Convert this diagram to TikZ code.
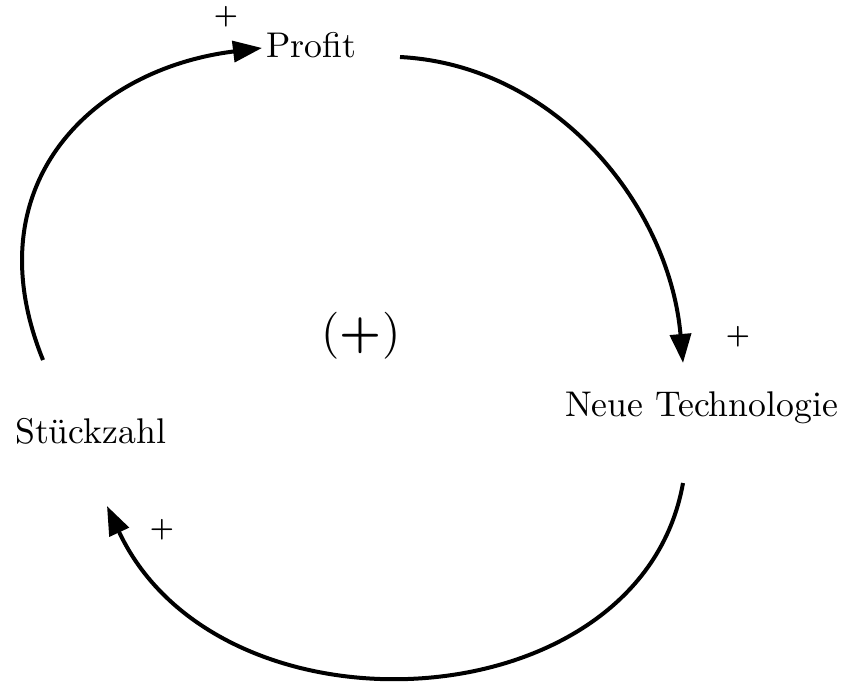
\documentclass[tikz,border=0pt]{standalone}
\usepackage{fontspec}
\newfontfamily\labelfont{lmroman10-regular.otf}
\newfontfamily\signfont{lmroman10-bold.otf}
\usetikzlibrary{arrows.meta}
\begin{document}
\begin{tikzpicture}[x=1pt,y=1pt,
  varlabel/.style={inner sep=0pt, anchor=base west, font=\labelfont\fontsize{35.7}{40}\selectfont},
  polarity/.style={inner sep=0pt, font=\signfont\fontsize{27}{30}\selectfont},
  looplabel/.style={inner sep=0pt, font=\labelfont\fontsize{47}{52}\selectfont},
  link/.style={line width=4pt, -{Triangle[length=29pt,width=21pt]}}]
\useasboundingbox (0,0) rectangle (850,-681);

% variables of the loop
\node[varlabel] (profit) at (266,-57) {Profit};
\node[varlabel] (tech)   at (565,-416) {Neue Technologie};
\node[varlabel] (stueck) at (15,-443) {Stückzahl};

% loop polarity, with a heavier plus between the parentheses
\node[looplabel] (loop) at (361,-336) {({\signfont +})};

% link polarities
\node[polarity] (pprofit) at (226,-17) {+};
\node[polarity] (ptech)   at (738,-337) {+};
\node[polarity] (pstueck) at (162,-530) {+};

% connector end points
\coordinate (s1) at (43,-360);
\coordinate (e1) at (262,-48);
\coordinate (s2) at (400,-57);
\coordinate (e2) at (683,-363);
\coordinate (s3) at (683,-483);
\coordinate (e3) at (107,-506);

% causal links
\draw[link] (s1) .. controls +(112:190) and +(187:170) .. (e1);
\draw[link] (s2) .. controls +(-3:157) and +(95:157) .. (e2);
\draw[link] (s3) .. controls +(-100:245) and +(-65:265) .. (e3);
\end{tikzpicture}
\end{document}
